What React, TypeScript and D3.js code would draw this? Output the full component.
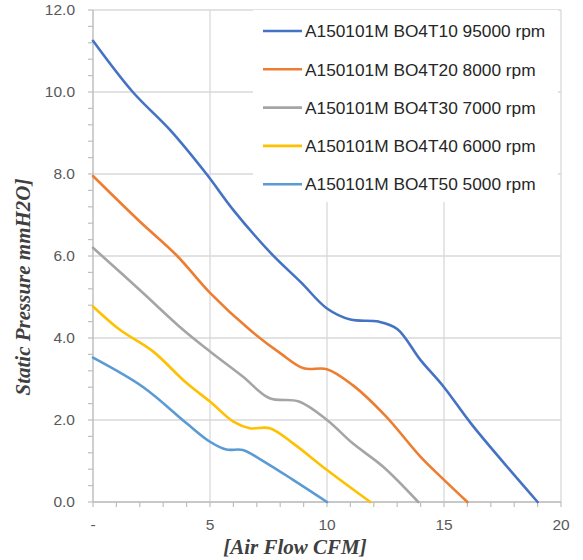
import React from "react";
import * as d3 from "d3";

const seriesNames = [
  "A150101M BO4T10 95000 rpm",
  "A150101M BO4T20 8000 rpm",
  "A150101M BO4T30 7000 rpm",
  "A150101M BO4T40 6000 rpm",
  "A150101M BO4T50 5000 rpm",
];
const seriesColors = ["#4472C4", "#ED7D31", "#A5A5A5", "#FFC000", "#5B9BD5"];

const flowT10 = [0, 1.7, 3.3, 4.85, 6, 7.6, 8.9, 10, 11, 12.2, 13, 14, 15, 16.2, 19];
const pressT10 = [11.25, 10.0, 9.07, 8.0, 7.12, 6.07, 5.35, 4.72, 4.45, 4.4, 4.22, 3.46, 2.8, 1.88, 0];

const flowT20 = [0, 2, 3.6, 5, 6.7, 8, 9, 10, 11.1, 12.5, 14, 15, 16];
const pressT20 = [7.95, 6.84, 6.0, 5.1, 4.2, 3.63, 3.26, 3.24, 2.85, 2.1, 1.1, 0.54, 0];

const flowT30 = [0, 2, 3.85, 5, 6.4, 7.55, 8.8, 10, 11.1, 12.4, 13.9];
const pressT30 = [6.2, 5.17, 4.2, 3.67, 3.06, 2.53, 2.45, 2.0, 1.43, 0.86, 0];

const flowT40 = [0, 1.15, 2.55, 4, 5, 6, 6.7, 7.55, 8.55, 10, 11.85];
const pressT40 = [4.77, 4.2, 3.68, 2.9, 2.45, 1.96, 1.8, 1.8, 1.43, 0.78, 0];

const flowT50 = [0, 2.15, 4, 5, 5.7, 6.4, 7.1, 8.55, 10];
const pressT50 = [3.52, 2.8, 1.92, 1.47, 1.28, 1.27, 1.06, 0.54, 0];

const allFlows = [flowT10, flowT20, flowT30, flowT40, flowT50];
const allPress = [pressT10, pressT20, pressT30, pressT40, pressT50];

const xTicks = [0, 5, 10, 15, 20];
const xTickLabels = ["-", "5", "10", "15", "20"];
const yTicks = [0, 2, 4, 6, 8, 10, 12];

const xTitle = "[Air Flow CFM]";
const yTitle = "Static Pressure mmH2O]";

export default function App() {
  const W = 583, H = 560;
  const left = 93, right = 561, top = 10, bottom = 502;
  const x = d3.scaleLinear().domain([0, 20]).range([left, right]);
  const y = d3.scaleLinear().domain([0, 12]).range([bottom, top]);

  const line = d3
    .line<[number, number]>()
    .x((d) => x(d[0]))
    .y((d) => y(d[1]))
    .curve(d3.curveCatmullRom.alpha(0.5));

  const minorY = d3.range(0, 12.001, 0.4);
  const minorX = d3.range(0, 20.001, 1);

  const legX = 253, legY = 10, legW = 305, legH = 192;
  const rowY = (i: number) => 31 + i * 38.3;

  return (
    <svg width={W} height={H} style={{ position: "absolute", left: 0, top: 0, background: "#fff" }}>
      <rect x={0} y={0} width={W} height={H} fill="#fff" />
      {yTicks.map((t) => (
        <line key={"gy" + t} x1={left} x2={right} y1={y(t)} y2={y(t)} stroke="#d9d9d9" strokeWidth={1.3} />
      ))}
      {xTicks.filter((t) => t > 0).map((t) => (
        <line key={"gx" + t} x1={x(t)} x2={x(t)} y1={top} y2={bottom} stroke="#d9d9d9" strokeWidth={1.3} />
      ))}
      <line x1={left} x2={left} y1={top} y2={bottom} stroke="#bfbfbf" strokeWidth={1.5} />
      <line x1={left} x2={right} y1={bottom} y2={bottom} stroke="#bfbfbf" strokeWidth={1.5} />
      {minorY.map((t, i) => (
        <line key={"my" + i} x1={left - 5} x2={left} y1={y(t)} y2={y(t)} stroke="#bfbfbf" strokeWidth={1.2} />
      ))}
      {minorX.map((t, i) => (
        <line key={"mx" + i} x1={x(t)} x2={x(t)} y1={bottom} y2={bottom + 5} stroke="#bfbfbf" strokeWidth={1.2} />
      ))}
      {yTicks.map((t) => (
        <text key={"ly" + t} x={75} y={y(t)} dy="0.35em" textAnchor="end" fontFamily="Liberation Sans, Arial, sans-serif" fontSize={15.5} fill="#595959">
          {t.toFixed(1)}
        </text>
      ))}
      {xTicks.map((t, i) => (
        <text key={"lx" + t} x={x(t)} y={530} textAnchor="middle" fontFamily="Liberation Sans, Arial, sans-serif" fontSize={15.5} fill="#595959">
          {xTickLabels[i]}
        </text>
      ))}
      {allFlows.map((fl, si) => (
        <path
          key={"s" + si}
          d={line(fl.map((f, j) => [f, allPress[si][j]] as [number, number])) || ""}
          fill="none"
          stroke={seriesColors[si]}
          strokeWidth={2.6}
          strokeLinejoin="round"
          strokeLinecap="round"
        />
      ))}
      <rect x={legX} y={legY} width={legW} height={legH} fill="#fff" />
      {seriesNames.map((n, i) => (
        <g key={"lg" + i}>
          <line x1={263} x2={302} y1={rowY(i)} y2={rowY(i)} stroke={seriesColors[i]} strokeWidth={2.6} />
          <text x={305} y={rowY(i)} dy="0.36em" fontFamily="Liberation Sans, Arial, sans-serif" fontSize={17.3} fill="#262626">
            {n}
          </text>
        </g>
      ))}
      <text x={295} y={554} textAnchor="middle" fontFamily="Liberation Serif, Times New Roman, serif" fontStyle="italic" fontWeight="bold" fontSize={21} fill="#404040">
        {xTitle}
      </text>
      <text transform={`translate(30,287) rotate(-90)`} textAnchor="middle" fontFamily="Liberation Serif, Times New Roman, serif" fontStyle="italic" fontWeight="bold" fontSize={21} fill="#404040">
        {yTitle}
      </text>
    </svg>
  );
}
